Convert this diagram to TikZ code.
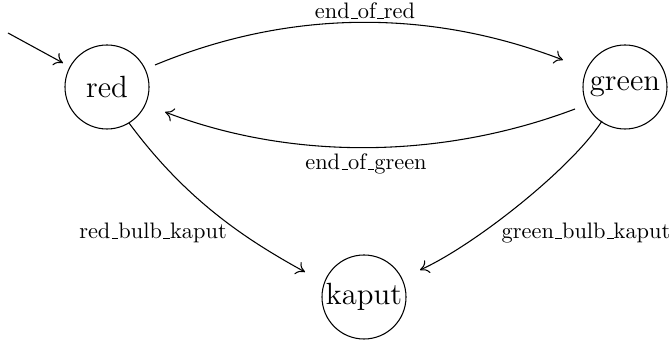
\documentclass[tikz,border=0pt]{standalone}
\usetikzlibrary{calc,arrows.meta}
\newcommand\usc{\leavevmode\kern.06em\vbox{\hrule width.3em}}
\begin{document}
\begin{tikzpicture}[x=0.469pt,y=-0.469pt,line width=0.5pt,
  state/.style={circle,draw,minimum size=39.4pt,inner sep=0pt,font=\Large},
  lbl/.style={inner sep=0pt,font=\fontsize{10.5}{12}\selectfont},
  trans/.style={-{Computer Modern Rightarrow[length=4pt,width=6.5pt]}}]
\useasboundingbox (0,0) rectangle (671,343);
\node[state] (red) at (107,87) {red};
\node[state] (green) at (625,87) {green};
\node[state] (kaput) at (364,297) {kaput};
\coordinate (init) at (8,33);
\draw[trans] (init) -- ($(red)+(-44,-24)$);
\draw[trans] ($(red)+(48,-22)$) .. controls (290,9) and (430,9) .. ($(green)+(-62,-27)$);
\draw[trans] ($(green)+(-50,22)$) .. controls (440,160) and (290,160) .. ($(red)+(58,25)$);
\draw[trans] ($(red)+(22,36)$) .. controls (186,200) and (245,239) .. ($(kaput)+(-59,-25)$);
\draw[trans] ($(green)+(-23,34)$) .. controls (572,168) and (475,245) .. ($(kaput)+(56,-27)$);
\node[lbl] (l1) at (365,11) {end\usc of\usc red};
\node[lbl] (l2) at (366,164) {end\usc of\usc green};
\node[lbl] (l3) at (153,233) {red\usc bulb\usc kaput};
\node[lbl] (l4) at (586,233) {green\usc bulb\usc kaput};
\end{tikzpicture}
\end{document}
